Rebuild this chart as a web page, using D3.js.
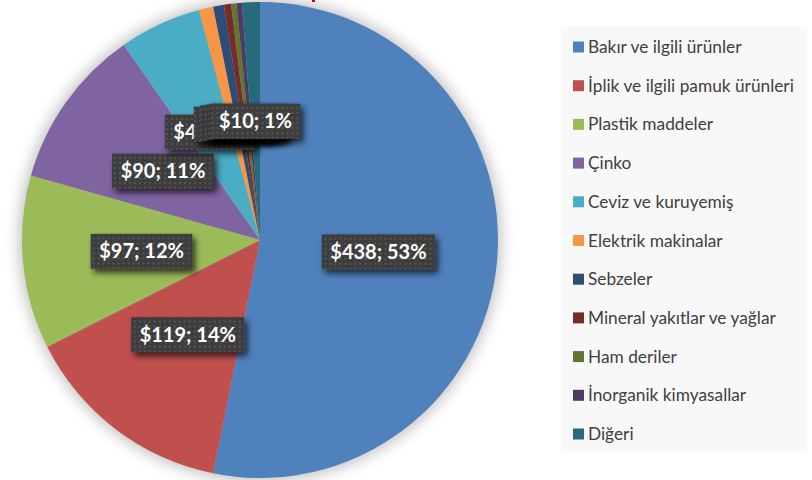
<!DOCTYPE html>
<html>
<head>
<meta charset="utf-8">
<script src="https://cdn.jsdelivr.net/npm/d3@7"></script>
<style>
  body { margin: 0; background: #fff; }
  svg { display: block; }
</style>
</head>
<body>
<svg id="chart" width="812" height="480"></svg>
<script>
// data
var categories = ["Bakır ve ilgili ürünler", "İplik ve ilgili pamuk ürünleri", "Plastik maddeler", "Çinko",
  "Ceviz ve kuruyemiş", "Elektrik makinalar", "Sebzeler", "Mineral yakıtlar ve yağlar",
  "Ham deriler", "İnorganik kimyasallar", "Diğeri"];
var values = [438, 119, 97, 90, 46, 8, 6, 4, 3, 3, 10];
var colors = ["#4F81BD", "#C0504D", "#9BBB59", "#8064A2", "#4BACC6", "#F79646",
  "#2C4D75", "#772C2A", "#5F7530", "#4D3B62", "#276A7C"];
// labels of these slices sit fully under the "Diğeri" label in the picture
var hiddenText = ["Elektrik makinalar", "Sebzeler", "Mineral yakıtlar ve yağlar", "Ham deriler", "İnorganik kimyasallar"];

var svg = d3.select("#chart");
var cx = 260, cy = 240, radius = 238;

var defs = svg.append("defs");
// soft glow around the pie
var glow = defs.append("filter").attr("id", "glow")
  .attr("x", "-20%").attr("y", "-20%").attr("width", "140%").attr("height", "140%");
glow.append("feGaussianBlur").attr("stdDeviation", 8);

// label box shadow
var sh = defs.append("filter").attr("id", "boxshadow")
  .attr("x", "-30%").attr("y", "-40%").attr("width", "170%").attr("height", "200%");
sh.append("feDropShadow").attr("dx", 3).attr("dy", 4).attr("stdDeviation", 3)
  .attr("flood-color", "#000").attr("flood-opacity", 0.7);

// dotted texture of the label boxes
var pat = defs.append("pattern").attr("id", "dots")
  .attr("width", 5).attr("height", 5).attr("patternUnits", "userSpaceOnUse");
pat.append("rect").attr("width", 5).attr("height", 5).attr("fill", "#3d3d3d");
pat.append("rect").attr("x", 1).attr("y", 1).attr("width", 2).attr("height", 2).attr("fill", "#555");

// tiny red fragment of the cut-off title at the very top
svg.append("rect").attr("x", 312).attr("y", 0).attr("width", 3).attr("height", 2).attr("fill", "#e00000");

var total = d3.sum(values);
var pie = d3.pie().sort(null).value(function(d) { return d; });
var arcs = pie(values);
var arc = d3.arc().innerRadius(0).outerRadius(radius);
var labelArc = d3.arc().innerRadius(radius * 0.5).outerRadius(radius * 0.5);

var g = svg.append("g").attr("transform", "translate(" + cx + "," + cy + ")");

g.append("circle").attr("r", radius + 2).attr("fill", "#000").attr("opacity", 0.28)
  .attr("filter", "url(#glow)");

g.selectAll("path.slice")
  .data(arcs)
  .enter().append("path")
  .attr("class", "slice")
  .attr("d", arc)
  .attr("fill", function(d, i) { return colors[i]; });

// data labels
var pct = d3.format(".0%");
var labels = g.selectAll("g.lbl")
  .data(arcs)
  .enter().append("g")
  .attr("class", "lbl")
  .attr("transform", function(d) { var c = labelArc.centroid(d); return "translate(" + c[0] + "," + c[1] + ")"; });

labels.append("rect").attr("class", "box");
labels.append("text")
  .attr("text-anchor", "middle")
  .attr("dy", "0.35em")
  .style("font-family", "Lato, 'Open Sans', sans-serif")
  .style("font-weight", "bold")
  .style("font-size", "20px")
  .attr("fill", "#fff")
  .text(function(d) { return "$" + d.value + "; " + pct(d.value / total); });

labels.each(function(d, i) {
  var grp = d3.select(this);
  var w = grp.select("text").node().getComputedTextLength() + 17;
  var h = 35;
  grp.select("rect.box")
    .attr("x", -w / 2).attr("y", -h / 2)
    .attr("width", w).attr("height", h)
    .attr("fill", "url(#dots)")
    .attr("filter", "url(#boxshadow)");
  if (hiddenText.indexOf(categories[i]) >= 0) grp.select("text").remove();
});

// legend
var legend = svg.append("g");
legend.append("rect")
  .attr("x", 561).attr("y", 27).attr("width", 246).attr("height", 425)
  .attr("fill", "#f8f8f8");

var item = legend.selectAll("g.item")
  .data(categories)
  .enter().append("g")
  .attr("class", "item")
  .attr("transform", function(d, i) { return "translate(573," + (47 + i * 38.7) + ")"; });

item.append("rect")
  .attr("x", 0).attr("y", -5.5)
  .attr("width", 11).attr("height", 11)
  .attr("fill", function(d, i) { return colors[i]; });

item.append("text")
  .attr("x", 15).attr("dy", "0.35em")
  .style("font-family", "Lato, 'Open Sans', sans-serif")
  .style("font-size", "17.3px")
  .attr("fill", "#404040")
  .text(function(d) { return d; });
</script>
</body>
</html>
